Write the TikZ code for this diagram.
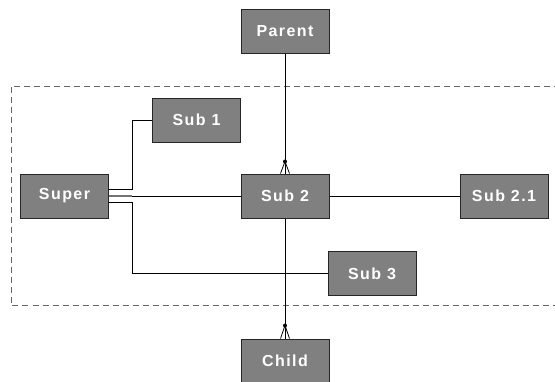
\documentclass[tikz,border=0pt]{standalone}
\usepackage{fontspec}
\newfontfamily\boxfont[LetterSpace=9]{Liberation Sans}
\begin{document}
\begin{tikzpicture}[x=1pt,y=-1pt,
  ent/.style={draw=black!85, line width=1pt, fill=black!50, text=white,
    minimum width=88pt, minimum height=44pt, inner sep=0pt,
    font=\boxfont\bfseries\fontsize{16}{18}\selectfont},
  rel/.style={draw=black, line width=0.8pt},
  dot/.style={circle, fill=black, inner sep=0pt, minimum size=4pt}]
\useasboundingbox (0,0) rectangle (555,381);
\draw[black!60, line width=0.8pt, dash pattern=on 6pt off 4pt] (11,86.5) rectangle (557,305);

\node[ent] (parent) at (285,31.5) {Parent};
\node[ent] (super) at (64.5,196) {Super};
\node[ent] (sub1) at (196.5,120) {Sub 1};
\node[ent] (sub2) at (285,196) {Sub 2};
\node[ent] (sub21) at (504,196) {Sub 2.1};
\node[ent] (sub3) at (372,273.5) {Sub 3};
\node[ent] (child) at (285,361) {Child};

\coordinate (k1) at (132,189);
\coordinate (k2) at (132,202);

% Super - Sub1
\draw[rel] (super.east |- k1) -| (k1) |- (sub1.west);
% Super - Sub3
\draw[rel] (super.east |- k2) -| (k2) |- (sub3.west);
% Super - Sub2
\draw[black!55, line width=1.6pt] (super.east) -- (k2 |- super.east);
\draw[rel] (k2 |- super.east) -- (sub2.west);
% Sub2 - Sub2.1
\draw[rel] (sub2.east) -- (sub21.west);
% Parent - Sub2
\draw[rel] (parent.south) -- (sub2.north);
\node[dot] (d1) at ([yshift=12pt]sub2.north) {};
\draw[rel] (d1.center) -- ([xshift=-4.5pt]sub2.north) (d1.center) -- ([xshift=4.5pt]sub2.north);
% Sub2 - Child
\draw[rel] (sub2.south) -- (child.north);
\node[dot] (d2) at ([yshift=13pt]child.north) {};
\draw[rel] (d2.center) -- ([xshift=-4.5pt]child.north) (d2.center) -- ([xshift=4.5pt]child.north);
\end{tikzpicture}
\end{document}
